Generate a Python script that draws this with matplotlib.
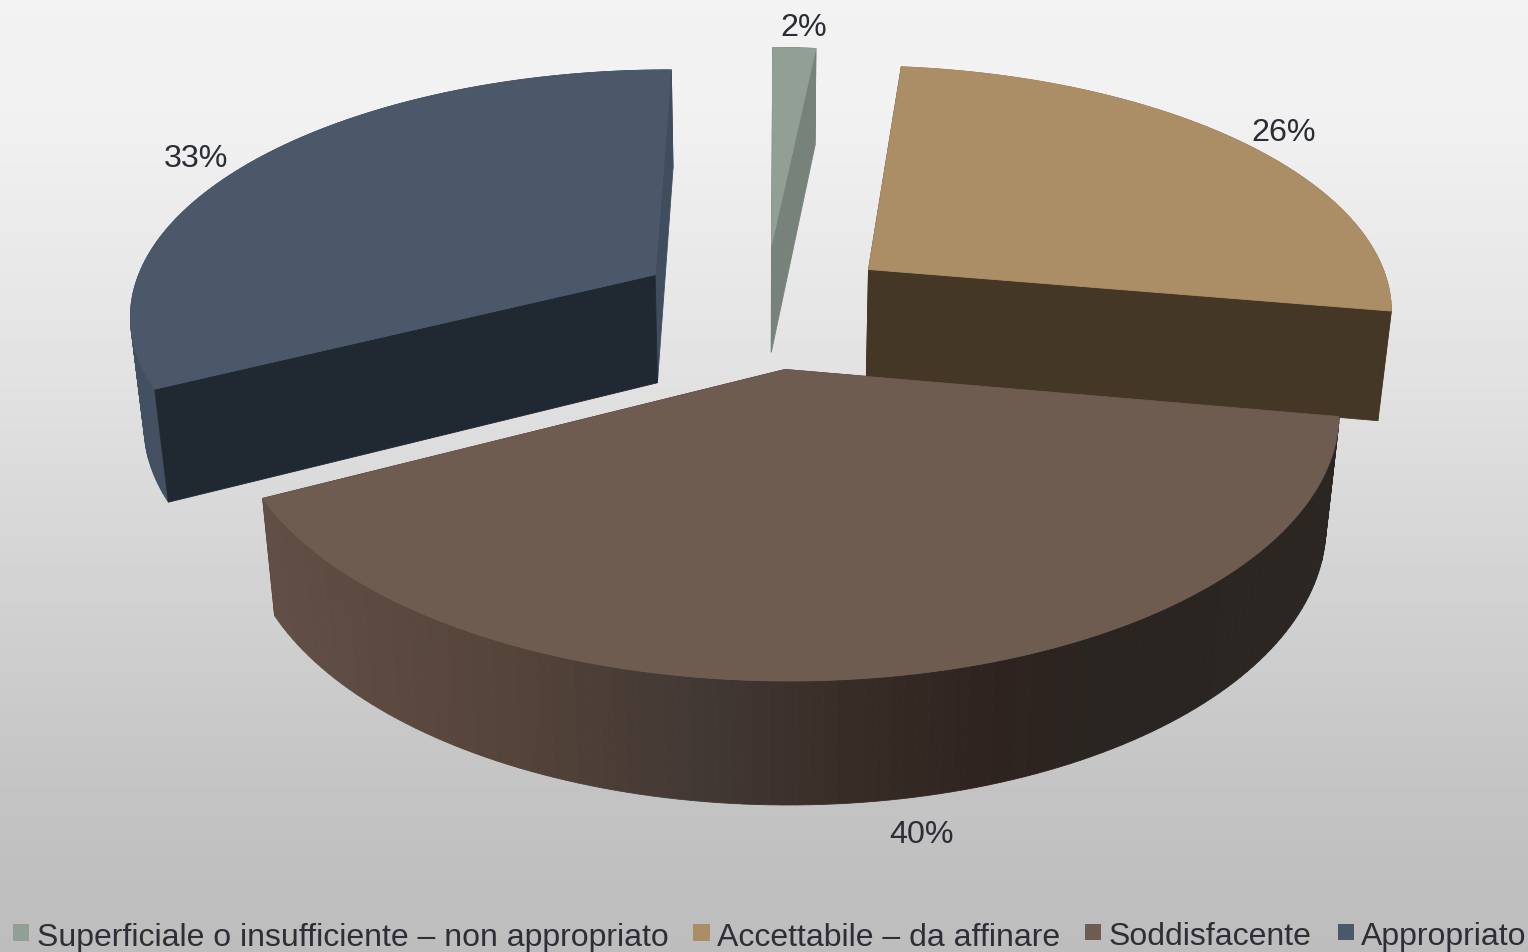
import matplotlib
matplotlib.use('Agg')
import matplotlib.pyplot as plt
from matplotlib.patches import Polygon, Rectangle
from matplotlib.colors import to_rgb
import numpy as np

labels = ['Superficiale o insufficiente – non appropriato', 'Accettabile – da affinare', 'Soddisfacente', 'Appropriato']
values = [1.55, 26.15, 39.7, 32.6]
pct_text = ['2%', '26%', '40%', '33%']

# perspective of the 3d pie, in pixels
x0, y0 = 764.44, 306.9
rx, ry, depth = 526.51, 243.98, 111.8
persp_y, persp_z = 0.149, 0.0219
rot = 0.005
explode = [0.2575, 0.2533, 0.2537, 0.2485]

tops = ['#919F94', '#AB8E66', '#6F5C51', '#4A586A']
walls = ['#76827A', '#8A7252', '#2B2621', '#425061']
far_cuts = ['#76827A', '#443726', '#2B2621', '#3F4D5E']
near_cuts = ['#76827A', '#443726', '#2B2621', '#202831']
brown_x = [270, 500, 700, 850, 1000, 1100, 1340]
brown_c = ['#614F45', '#55443A', '#423834', '#382C26', '#2F2320', '#2A2520', '#2B2621']
bg_pos = [0, .12, .4, .6, .8, .92, 1]
bg_val = [.95, .945, .885, .83, .775, .75, .74]
pct_xy = [(804, 28), (1284, 133), (922, 835), (196, 159)]
leg_box = [(13, 925, 16, 17), (693, 925, 17, 17), (1085, 925, 16, 16), (1338, 925, 16, 16)]
leg_x = [37, 717, 1109, 1361]
leg_y = [946, 946, 945, 945]

frac = np.array(values) / sum(values)
edges = np.concatenate([[0], np.cumsum(frac)]) * 2 * np.pi


def proj(s, ang, z):
    m = (edges[s] + edges[s + 1]) / 2 + rot
    X = explode[s] * np.sin(m)
    Y = explode[s] * np.cos(m)
    if ang is not None:
        X = X + np.sin(ang + rot)
        Y = Y + np.cos(ang + rot)
    w = 1 + persp_y * Y + persp_z * z
    return x0 + rx * X / w, y0 - (ry * Y - depth * z) / w


fig = plt.figure(figsize=(15.28, 9.53), dpi=100)
ax = fig.add_axes([0, 0, 1, 1])
ax.axis('off')
grad = np.interp(np.linspace(0, 1, 953), bg_pos, bg_val).reshape(-1, 1)
ax.imshow(grad, cmap='gray', vmin=0, vmax=1, extent=[0, 1528, 953, 0], aspect='auto', zorder=0)
ax.set_xlim(0, 1528)
ax.set_ylim(953, 0)

zo = 1


def face(pts, c):
    global zo
    ax.add_patch(Polygon(pts, closed=True, facecolor=c, edgecolor=c, lw=.6, zorder=zo))
    zo += 1


for s in [0, 1, 3, 2]:
    t = np.linspace(edges[s], edges[s + 1], 120)
    rim_top = np.array([proj(s, a, 0) for a in t])
    rim_bot = np.array([proj(s, a, 1) for a in t])
    apex_top = proj(s, None, 0)
    apex_bot = proj(s, None, 1)
    if s == 3:
        a_far, a_near = rim_top[-1], rim_top[0]
        b_far, b_near = rim_bot[-1], rim_bot[0]
    else:
        a_far, a_near = rim_top[0], rim_top[-1]
        b_far, b_near = rim_bot[0], rim_bot[-1]

    # brown slice: cut faces are hidden behind its own wall
    if s == 2:
        face([apex_top, a_far, b_far, apex_bot], far_cuts[s])
        face([apex_top, a_near, b_near, apex_bot], near_cuts[s])
    for i in range(len(t) - 1):
        quad = [rim_top[i], rim_top[i + 1], rim_bot[i + 1], rim_bot[i]]
        c = walls[s]
        if s == 2:
            mx = (rim_top[i][0] + rim_top[i + 1][0]) / 2
            c = [np.interp(mx, brown_x, [to_rgb(k)[j] for k in brown_c]) for j in range(3)]
        face(quad, c)
    if s != 2:
        face([apex_top, a_far, b_far, apex_bot], far_cuts[s])
        face([apex_top, a_near, b_near, apex_bot], near_cuts[s])
    face([apex_top] + list(rim_top), tops[s])

for s in range(4):
    ax.text(pct_xy[s][0], pct_xy[s][1], pct_text[s], fontsize=23.2, family='Liberation Sans',
            color='#2A2D36', ha='center', va='center', zorder=zo)
    bx, by, bw, bh = leg_box[s]
    ax.add_patch(Rectangle((bx, by), bw, bh, facecolor=tops[s], edgecolor='none', zorder=zo))
    ax.text(leg_x[s], leg_y[s], labels[s], fontsize=23.05, family='Liberation Sans',
            color='#2E2E38', ha='left', va='baseline', zorder=zo)

fig.savefig('out.png', dpi=100)
